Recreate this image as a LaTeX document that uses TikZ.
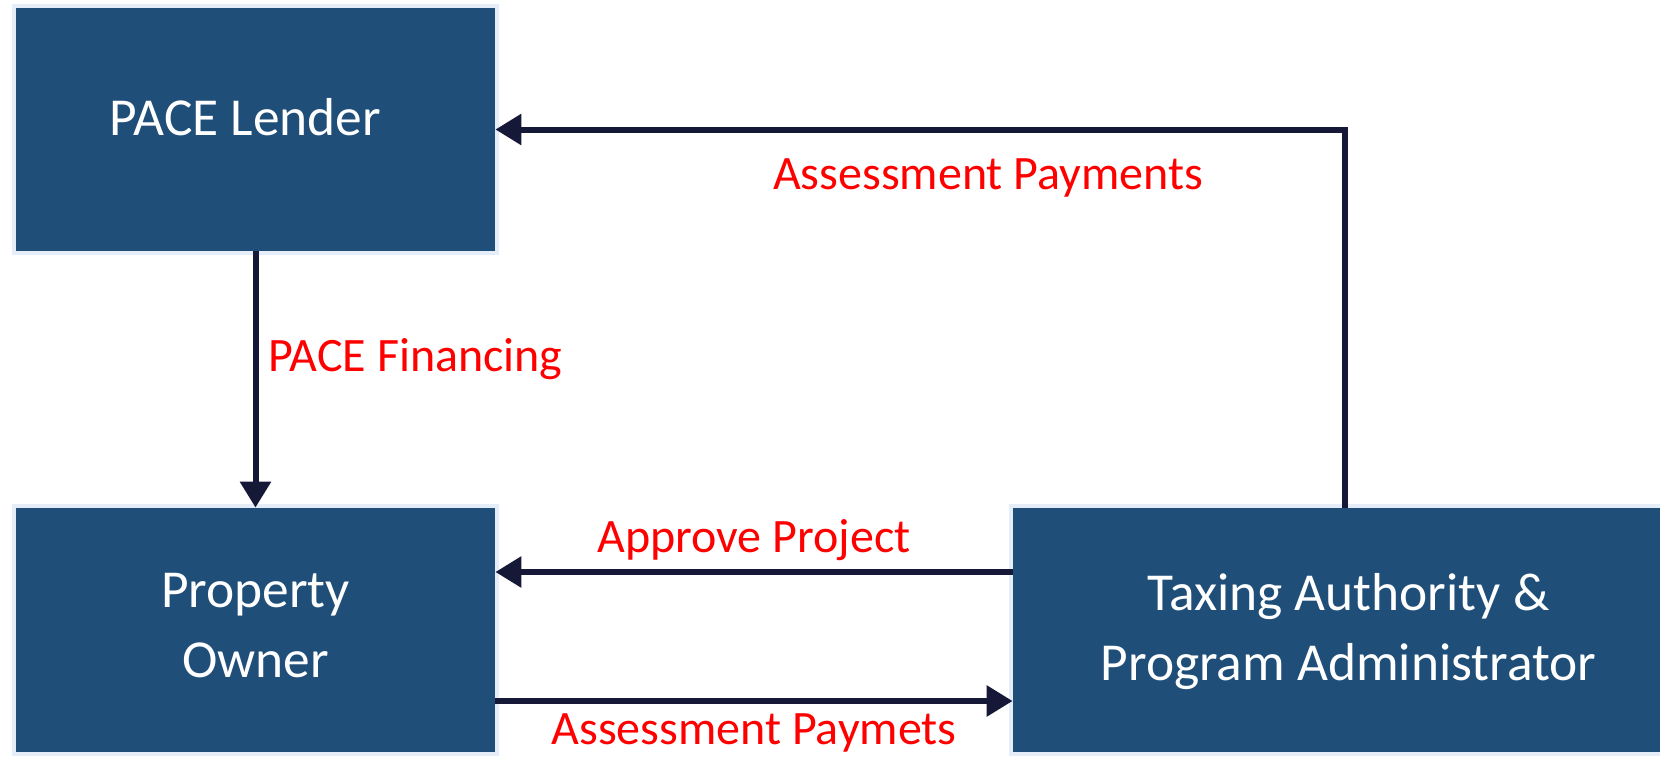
\documentclass[tikz,border=0pt]{standalone}
\usepackage{fontspec}
\setmainfont{Carlito}
\usetikzlibrary{arrows.meta}

\definecolor{boxblue}{RGB}{31,78,121}
\definecolor{wirenavy}{RGB}{22,24,56}
\definecolor{haze}{RGB}{190,210,240}

\tikzset{
    box/.style={draw=none, fill=boxblue, inner sep=0pt,
        preaction={draw=haze, line width=4pt, opacity=0.4}},
    boxtext/.style={text=white, align=center, inner sep=0pt,
        font=\fontsize{26.7}{35}\selectfont},
    flow/.style={wirenavy, line width=3pt, -{Triangle[length=13pt, width=15pt]}},
    lbl/.style={text=red, font=\fontsize{24}{28}\selectfont, inner sep=2pt}
}

\begin{document}
\begin{tikzpicture}[x=0.5pt, y=-0.5pt]
    \useasboundingbox (0,0) rectangle (1660,756);

    % Draw the three boxes
    \node[box, minimum width=239.5pt, minimum height=121.5pt,
        label={[boxtext, yshift=6pt, xshift=-5pt]center:PACE Lender}] (lender) at (255.5,129.5) {};
    \node[box, minimum width=239.5pt, minimum height=122pt,
        label={[boxtext, yshift=2pt]center:Property\\ Owner}] (owner) at (255.5,630) {};
    \node[box, minimum width=323.5pt, minimum height=122pt,
        label={[boxtext, xshift=6pt, yshift=-1pt]center:Taxing Authority \&\\ Program Administrator}] (taxing) at (1336.5,630) {};

    % Lender down to the owner
    \draw[flow] (lender.south) -- (owner.north)
        node[lbl, pos=0.42, right=3pt] {PACE Financing};

    % Payments back up to the lender
    \draw[flow] ([xshift=4.25pt]taxing.north) |- (lender.east)
        node[lbl, pos=0.71, below=11pt] {Assessment Payments};

    % Between owner and taxing authority
    \draw[flow] ([yshift=29pt]taxing.west) -- ([yshift=29pt]owner.east)
        node[lbl, midway, above=2pt] {Approve Project};
    \draw[flow] ([yshift=-35.5pt]owner.east) -- ([yshift=-35.5pt]taxing.west)
        node[lbl, midway, below=3pt] {Assessment Paymets};
\end{tikzpicture}
\end{document}
